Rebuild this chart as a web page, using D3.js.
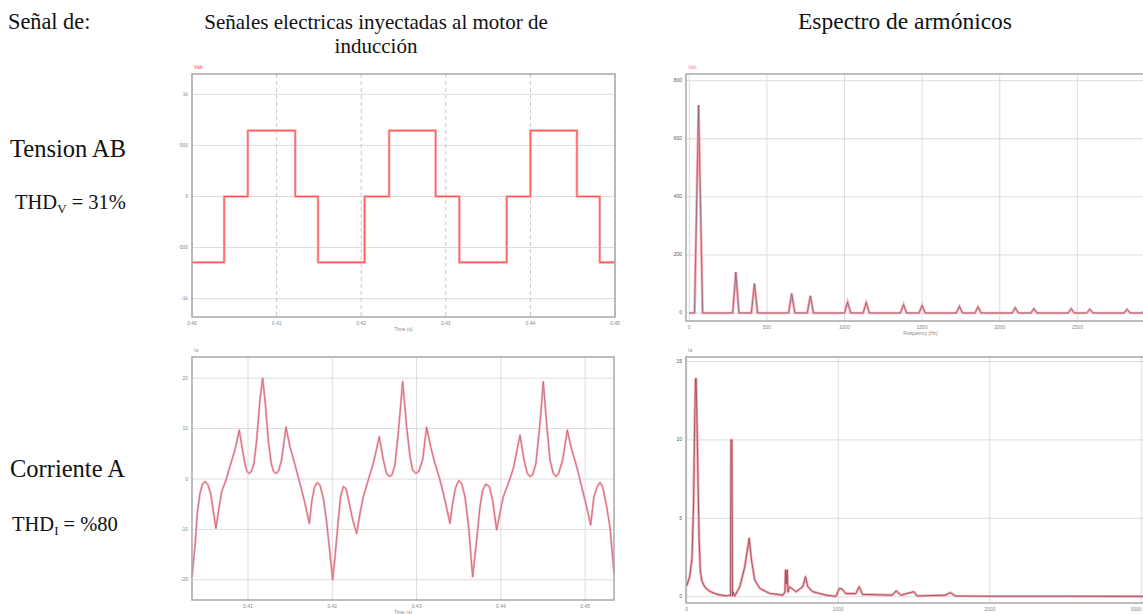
<!DOCTYPE html>
<html>
<head>
<meta charset="utf-8">
<script src="https://cdn.jsdelivr.net/npm/d3@7"></script>
<style>
  body { margin: 0; background: #fff; }
  svg { display: block; }
</style>
</head>
<body>
<svg id="fig" width="1143" height="614"></svg>
<script>
// ---- Line voltage Vab (six-step): switching instants [ms] and levels [V]
const vabTime  = [400, 403.8, 406.6, 412.2, 414.9, 420.4, 423.3, 428.8, 431.6, 437.2, 440.0, 445.5, 448.2, 450];
const vabLevel = [-645, 0, 645, 0, -645, 0, 645, 0, -645, 0, 645, 0, -645, -645];

// ---- Phase current Ia: time [ms] and value [A]
const iaTime = [
  403.36, 403.71, 403.99, 404.31, 404.62, 404.90, 405.22, 405.57, 405.89, 406.20,
  406.52, 406.88, 407.39, 407.86, 408.46, 408.97, 409.29, 409.64, 409.88, 410.12,
  410.40, 410.71, 411.03, 411.42, 411.74, 412.06, 412.41, 412.77, 413.04, 413.32,
  413.60, 413.99, 414.51, 414.98, 415.58, 416.17, 416.76, 417.28, 417.59, 417.91,
  418.22, 418.54, 418.94, 419.33, 419.73, 420.04, 420.36, 420.72, 420.99, 421.31,
  421.63, 421.94, 422.42, 422.89, 423.29, 423.68, 424.27, 424.87, 425.58, 426.05,
  426.45, 426.77, 427.08, 427.44, 427.83, 428.35, 428.82, 429.22, 429.53, 429.93,
  430.25, 430.72, 431.19, 431.67, 432.18, 432.78, 433.37, 433.96, 434.28, 434.60,
  434.99, 435.35, 435.74, 436.18, 436.65, 437.13, 437.52, 437.84, 438.23, 438.63,
  439.02, 439.50, 439.89, 440.29, 440.88, 441.48, 442.27, 442.74, 443.14, 443.45,
  443.77, 444.16, 444.64, 445.03, 445.43, 445.82, 446.22, 446.54, 446.85, 447.33,
  447.88, 448.40, 448.99, 449.58, 450.17, 450.65, 451.04, 451.44, 451.76, 452.07,
  452.55, 452.94, 453.22, 453.42
];
const iaValue = [
  -19.4, -13.4, -6.8, -2.8, -1.0, -0.5, -1.0, -2.8, -6.4, -9.8,
  -6.2, -2.5, -0.2, 2.5, 5.8, 9.7, 6.4, 3.0, 1.5, 1.1,
  1.5, 3.1, 7.7, 15.7, 20.0, 15.0, 7.7, 3.0, 1.5, 1.1,
  1.5, 3.8, 10.3, 6.4, 2.8, -0.9, -4.8, -8.8, -4.2, -1.5,
  -0.7, -1.2, -3.8, -8.5, -14.8, -20.0, -14.8, -8.1, -3.5, -1.5,
  -1.9, -4.2, -8.1, -10.8, -6.8, -3.5, -0.2, 3.1, 8.4, 3.8,
  1.1, 0.5, 0.8, 2.8, 9.1, 19.3, 10.4, 4.4, 1.8, 1.1,
  1.5, 3.8, 10.3, 6.4, 3.1, -0.2, -4.2, -8.8, -4.8, -1.9,
  -0.3, -0.9, -3.5, -9.5, -19.4, -12.1, -5.5, -2.2, -1.0, -1.5,
  -4.2, -10.1, -6.8, -3.5, -0.9, 2.1, 8.7, 3.8, 1.1, 0.5,
  0.8, 3.1, 11.0, 19.3, 11.0, 3.8, 1.1, 0.5, 1.1, 3.8,
  9.7, 5.8, 2.5, -1.5, -5.5, -9.1, -3.5, -1.5, -0.7, -1.5,
  -5.5, -9.5, -14.8, -18.7
];

// ---- Vab harmonic spectrum: frequency [Hz], magnitude [V]
const vabHarmFreq = [60, 300, 420, 660, 780, 1020, 1140, 1380, 1500, 1740, 1860, 2100, 2220, 2460, 2580, 2820, 2940];
const vabHarmAmp  = [716, 141, 101, 67, 59, 38, 36, 29, 26, 23, 21, 18, 15, 15, 13, 13, 12];
const vabBinHalfWidth = [26, 20, 20, 20, 20, 20, 20, 20, 20, 20, 20, 20, 20, 20, 20, 20, 20]; // Hz

// ---- Ia spectrum: frequency [Hz], magnitude [A]
const iaSpecFreq = [
  0, 20, 35, 45, 52, 58, 62, 68, 75, 82, 90, 100, 120, 150, 200, 260, 284,
  289, 292, 298, 302, 306, 317, 350, 383, 412, 427, 449, 482, 547, 635, 648,
  652, 657, 663, 668, 678, 722, 766, 784, 799, 832, 920, 985, 1007, 1024,
  1050, 1116, 1138, 1160, 1357, 1383, 1412, 1499, 1521, 1707, 1740, 1773,
  2000, 2500, 3124
];
const iaSpecAmp = [
  0.7, 1.3, 2.5, 6.0, 11.0, 13.9, 13.9, 11.0, 7.0, 3.5, 1.6, 1.0, 0.6, 0.35, 0.15, 0.05, 0.1,
  0.05, 10.0, 10.0, 0.05, 0.3, 0.04, 0.64, 1.9, 3.72, 2.34, 1.06, 0.53, 0.21, 0.1, 0.3,
  1.7, 0.8, 1.7, 0.3, 0.64, 0.32, 0.64, 1.28, 0.64, 0.32, 0.1, 0.02, 0.53, 0.5,
  0.2, 0.2, 0.64, 0.15, 0.1, 0.38, 0.1, 0.32, 0.05, 0.1, 0.26, 0.05,
  0.03, 0.03, 0.02
];

// ---- Tick values
const vabTicksX = [400, 410, 420, 430, 440, 450];
const vabTicksY = [-1000, -500, 0, 500, 1000];
const iaTicksX  = [410, 420, 430, 440, 450];
const iaTicksY  = [-20, -10, 0, 10, 20];
const vSpecTicksX = [0, 500, 1000, 1500, 2000, 2500];
const vSpecTicksY = [0, 200, 400, 600, 800];
const iSpecTicksX = [0, 1000, 2000, 3000];
const iSpecTicksY = [0, 5, 10, 15];

// ---- Page texts
const headerLeft = "Señal de:";
const headerMid = ["Señales electricas inyectadas al motor de", "inducción"];
const headerRight = "Espectro de armónicos";
const rowNames = ["Tension AB", "Corriente A"];
const thdBase = "THD";
const thdSub = ["V", "I"];
const thdText = [" = 31%", " = %80"];

const W = 1143;
const svg = d3.select("#fig");
svg.append("rect").attr("width", W).attr("height", 614).attr("fill", "#fff");

const serif = "'Liberation Serif', 'Times New Roman', serif";
const sans = "'Liberation Sans', Arial, sans-serif";

// Headings
svg.append("text").attr("x", 8).attr("y", 29).attr("font-family", serif)
  .attr("font-size", 22.3).attr("fill", "#111").text(headerLeft);
headerMid.forEach((t, i) => {
  svg.append("text").attr("x", 376).attr("y", 29 + i * 24).attr("text-anchor", "middle")
    .attr("font-family", serif).attr("font-size", 21).attr("fill", "#111").text(t);
});
svg.append("text").attr("x", 905).attr("y", 29).attr("text-anchor", "middle")
  .attr("font-family", serif).attr("font-size", 23.5).attr("fill", "#111").text(headerRight);

// Row labels with THD values
const rowY = [157, 477];
const thdY = [209, 531];
const thdX = [15, 12];
rowNames.forEach((name, i) => {
  svg.append("text").attr("x", 10).attr("y", rowY[i]).attr("font-family", serif)
    .attr("font-size", 24.5).attr("fill", "#111").text(name);
  const t = svg.append("text").attr("x", thdX[i]).attr("y", thdY[i]).attr("font-family", serif)
    .attr("font-size", 20.5).attr("fill", "#111");
  t.append("tspan").text(thdBase);
  t.append("tspan").attr("font-size", 13).attr("dy", 4).text(thdSub[i]);
  t.append("tspan").attr("dy", -4).text(thdText[i]);
});

// Generic plot frame: grid, border, tiny tick labels
function frame(o) {
  const g = svg.append("g");
  const x = d3.scaleLinear().domain(o.xDomain).range([o.left, o.right]);
  const y = d3.scaleLinear().domain(o.yDomain).range([o.bottom, o.top]);
  g.append("rect").attr("x", o.left).attr("y", o.top)
    .attr("width", o.right - o.left).attr("height", o.bottom - o.top).attr("fill", "#fff");
  g.selectAll(".gy").data(o.yTicks).join("line")
    .attr("x1", o.left).attr("x2", o.right)
    .attr("y1", d => y(d)).attr("y2", d => y(d))
    .attr("stroke", "#dcdcdc").attr("stroke-width", 1);
  g.selectAll(".gx").data(o.xTicks).join("line")
    .attr("x1", d => x(d)).attr("x2", d => x(d))
    .attr("y1", o.top).attr("y2", o.bottom)
    .attr("stroke", o.xDash ? "#c8c8c8" : "#dcdcdc").attr("stroke-width", 1)
    .attr("stroke-dasharray", o.xDash ? "4,3" : null);
  // tick labels
  g.selectAll(".ly").data(o.yTicks).join("text")
    .attr("x", o.left - 4).attr("y", d => y(d) + 1.5).attr("text-anchor", "end")
    .attr("font-family", sans).attr("font-size", 5).attr("fill", o.yLabelColor || "#888")
    .text(o.yFmt);
  g.selectAll(".lx").data(o.xTicks).join("text")
    .attr("x", d => Math.min(x(d), W - 7)).attr("y", o.bottom + 8).attr("text-anchor", "middle")
    .attr("font-family", sans).attr("font-size", 5).attr("fill", "#888")
    .text(o.xFmt);
  if (o.xTitle) {
    g.append("text").attr("x", (o.left + o.right) / 2).attr("y", o.bottom + 14)
      .attr("text-anchor", "middle").attr("font-family", sans).attr("font-size", 5)
      .attr("fill", "#888").text(o.xTitle);
  }
  g.append("text").attr("x", o.left + 2).attr("y", o.top - 5)
    .attr("font-family", sans).attr("font-size", 5).attr("fill", o.nameColor).text(o.name);
  const plot = g.append("g");
  g.append("rect").attr("x", o.left).attr("y", o.top)
    .attr("width", o.right - o.left).attr("height", o.bottom - o.top)
    .attr("fill", "none").attr("stroke", "#a8a8a8").attr("stroke-width", 1.5);
  return { x, y, plot };
}

const fmtSec = d => d3.format(".2f")(d / 1000);
const fmtV = d => d === 0 ? "0" : (Math.abs(d) >= 1000 ? (d / 1000) + "k" : d);

// ---- Vab waveform
{
  const f = frame({ left: 192, right: 615, top: 74, bottom: 317,
    xDomain: [400, 450], yDomain: [-1180, 1199],
    xTicks: vabTicksX, yTicks: vabTicksY, xDash: true,
    xFmt: fmtSec, yFmt: fmtV, xTitle: "Time (s)", name: "Vab", nameColor: "#ff4444" });
  const pts = vabTime.map((t, i) => [t, vabLevel[i]]);
  const line = d3.line().x(d => f.x(d[0])).y(d => f.y(d[1])).curve(d3.curveStepAfter);
  f.plot.append("path").attr("d", line(pts)).attr("fill", "none")
    .attr("stroke", "#ffabab").attr("stroke-width", 2.6);
  f.plot.append("path").attr("d", line(pts)).attr("fill", "none")
    .attr("stroke", "#ff5252").attr("stroke-width", 1);
}

// ---- Ia waveform
{
  const f = frame({ left: 192, right: 614, top: 357, bottom: 600,
    xDomain: [403.36, 453.42], yDomain: [-24, 24.2],
    xTicks: iaTicksX, yTicks: iaTicksY, xDash: false,
    xFmt: fmtSec, yFmt: d => d, xTitle: "Time (s)", name: "Ia", nameColor: "#999" });
  const pts = iaTime.map((t, i) => [t, iaValue[i]]);
  const line = d3.line().x(d => f.x(d[0])).y(d => f.y(d[1]));
  f.plot.append("path").attr("d", line(pts)).attr("fill", "none")
    .attr("stroke", "#f8b0ba").attr("stroke-width", 2.2).attr("stroke-linejoin", "round");
  f.plot.append("path").attr("d", line(pts)).attr("fill", "none")
    .attr("stroke", "#c46272").attr("stroke-width", 0.8).attr("stroke-linejoin", "round");
}

// ---- Vab spectrum
{
  const f = frame({ left: 686, right: 1155, top: 74, bottom: 321,
    xDomain: [-21, 3000], yDomain: [-27.6, 823],
    xTicks: vSpecTicksX, yTicks: vSpecTicksY, xDash: false,
    xFmt: d => d, yFmt: d => d, yLabelColor: "#555", xTitle: "Frequency (Hz)", name: "Vab", nameColor: "#f08a9a" });
  const pts = [[0, 0]];
  vabHarmFreq.forEach((fr, i) => {
    const hw = vabBinHalfWidth[i];
    pts.push([fr - hw, 0], [fr, vabHarmAmp[i]], [fr + hw, 0]);
  });
  pts.push([3000, 0]);
  const line = d3.line().x(d => f.x(d[0])).y(d => f.y(d[1]));
  f.plot.append("path").attr("d", line(pts)).attr("fill", "none")
    .attr("stroke", "#f7a8b6").attr("stroke-width", 2.6);
  f.plot.append("path").attr("d", line(pts)).attr("fill", "none")
    .attr("stroke", "#7a5560").attr("stroke-width", 0.7);
}

// ---- Ia spectrum
{
  const f = frame({ left: 686, right: 1160, top: 357, bottom: 603,
    xDomain: [-5, 3124], yDomain: [-0.4, 15.29],
    xTicks: iSpecTicksX, yTicks: iSpecTicksY, xDash: false,
    xFmt: d => d, yFmt: d => d, yLabelColor: "#555", xTitle: null, name: "Ia", nameColor: "#999" });
  const pts = iaSpecFreq.map((fr, i) => [fr, iaSpecAmp[i]]);
  const line = d3.line().x(d => f.x(d[0])).y(d => f.y(d[1]));
  f.plot.append("path").attr("d", line(pts)).attr("fill", "none")
    .attr("stroke", "#f6a8b2").attr("stroke-width", 2.6).attr("stroke-linejoin", "round");
  f.plot.append("path").attr("d", line(pts)).attr("fill", "none")
    .attr("stroke", "#8a4652").attr("stroke-width", 0.8).attr("stroke-linejoin", "round");
}
</script>
</body>
</html>
